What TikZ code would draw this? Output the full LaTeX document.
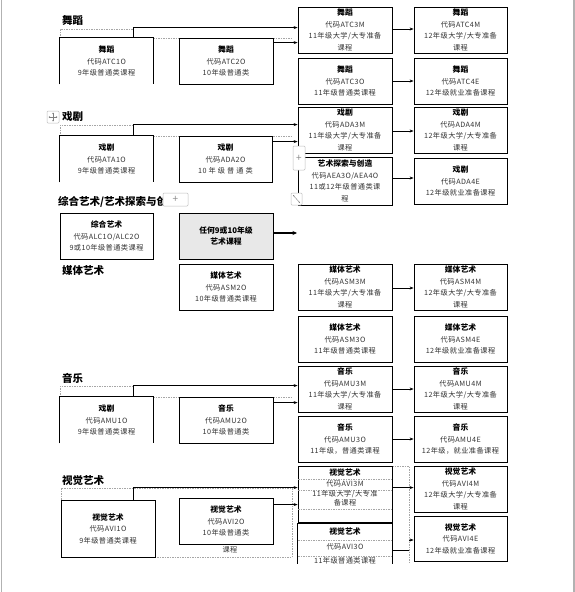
\documentclass[tikz,border=0pt]{standalone}
\usepackage{fontspec}
\setmainfont{Noto Sans CJK SC}
\newfontfamily\spacedfont[LetterSpace=6]{Noto Sans CJK SC}
\usetikzlibrary{arrows.meta}
\tikzset{
  box/.style={draw=black, line width=0.8pt, inner sep=0pt, align=center, font=\spacedfont\fontsize{7.2}{11.5}\selectfont, text=black!80},
  openbox/.style={box, draw=none},
  graybox/.style={box, fill=black!9},
  grid/.style={draw=black!35, dash pattern=on 1.5pt off 1pt, line width=0.5pt},
  arr/.style={draw=black, line width=0.7pt, -{Stealth[length=4pt,width=3pt]}},
  thickarr/.style={draw=black, line width=1.6pt, -{Stealth[length=4.5pt,width=4pt]}},
  heading/.style={anchor=west, inner sep=0pt, font=\fontsize{10.5}{12}\selectfont\bfseries},
  plain/.style={inner sep=0pt, font=\spacedfont\fontsize{7.2}{11.5}\selectfont, text=black!80},
  ui/.style={draw=black!25, rounded corners=1pt, line width=0.5pt, fill=white},
  sideline/.style={draw=black!30, line width=1.5pt},
}
\newcommand\boxat[7][box]{\node[#1, minimum width={(#5-#3)*1pt}, minimum height={(#6-#4)*1pt}] (#2) at ({(#3+#5)/2},{(#4+#6)/2}) {#7};}
\newcommand\boxtitle[1]{{\normalfont\fontsize{7.8}{11.5}\selectfont\bfseries\color{black}#1}}
\newcommand\opensides[1]{\draw[line width=0.8pt] (#1.south west) -- (#1.north west) -- (#1.north east) -- (#1.south east);}
\begin{document}
\begin{tikzpicture}[x=1pt,y=-1pt]
\useasboundingbox (0,0) rectangle (575,592);
\fill[white] (0,0) rectangle (575,592);
\draw[sideline] (1.5,0) -- (1.5,592);
\draw[sideline] (574,0) -- (574,592);
\begin{scope}
\clip (0,0) rectangle (575,563);
% ---------------- Dance
\node[heading] (hdance) at (62,20) {舞蹈};
\draw[grid] (60,38) -- (60,29) -- (133,29);
\draw[grid] (153,38) -- (292,38);
\boxat[openbox]{atc1o}{60}{38}{153}{84}{\boxtitle{舞蹈}\\代码ATC1O\\9年级普通类课程}
\opensides{atc1o}
\boxat{atc2o}{179}{38}{273}{84}{\boxtitle{舞蹈}\\代码ATC2O\\10年级普通类}
\boxat{atc3m}{298}{7}{392}{53}{\boxtitle{舞蹈}\\代码ATC3M\\11年级大学/大专准备\\课程}
\boxat{atc4m}{414}{7}{507}{53}{\boxtitle{舞蹈}\\代码ATC4M\\12年级大学/大专准备\\课程}
\boxat{atc3o}{298}{58}{392}{104}{\boxtitle{舞蹈}\\代码ATC3O\\11年级普通类课程}
\boxat{atc4e}{414}{58}{507}{104}{\boxtitle{舞蹈}\\代码ATC4E\\12年级就业准备课程}
\draw[arr] ([xshift=26.5pt]atc1o.north) |- ([yshift=-21pt]atc3m.north west);
\draw[arr] ([yshift=-5pt]atc2o.north east) -- ([yshift=-5pt]atc2o.north east -| atc3m.west);
\draw[arr] ([yshift=1pt]atc3m.east) -- ([yshift=1pt]atc3m.east -| atc4m.west);
\draw[arr] (atc3o.east) -- (atc4e.west);
% ---------------- Drama
\node[heading] (hdrama) at (62,117) {戏剧};
\draw[grid] (60,136) -- (60,125) -- (133,125);
\draw[grid] (153,136) -- (292,136);
\boxat[openbox]{ata1o}{60}{136}{153}{182}{\boxtitle{戏剧}\\代码ATA1O\\9年级普通类课程}
\opensides{ata1o}
\boxat{ada2o}{179}{136}{272}{182}{\boxtitle{戏剧}\\代码ADA2O\\10 年 级 普 通 类}
\boxat{ada3m}{298}{107}{392}{153}{\boxtitle{戏剧}\\代码ADA3M\\11年级大学/大专准备\\课程}
\boxat{ada4m}{414}{107}{507}{153}{\boxtitle{戏剧}\\代码ADA4M\\12年级大学/大专准备\\课程}
\boxat{aea3o}{298}{157}{392}{205}{\boxtitle{艺术探索与创造}\\代码AEA3O/AEA4O\\11或12年级普通类课\\程}
\boxat{ada4e}{414}{158}{507}{204}{\boxtitle{戏剧}\\代码ADA4E\\12年级就业准备课程}
\draw[arr] ([xshift=26.5pt]ata1o.north) |- ([yshift=-18pt]ada3m.north west);
\draw[arr] ([yshift=-6pt]ada2o.north east) -- ([yshift=-6pt]ada2o.north east -| ada3m.west);
\draw[arr] ([yshift=-1pt]ada3m.east) -- ([yshift=-1pt]ada3m.east -| ada4m.west);
\draw[arr] ([yshift=3pt]aea3o.east) -- ([yshift=3pt]aea3o.east -| ada4e.west);
% ---------------- Integrated arts
\node[heading] (hinteg) at (58,202) {综合艺术/艺术探索与创};
\boxat{alc1o}{60}{213}{153}{259}{\boxtitle{综合艺术}\\代码ALC1O/ALC2O\\9或10年级普通类课程}
\boxat[graybox]{anyart}{179}{213}{273}{259}{\boxtitle{任何9或10年级}\\\boxtitle{艺术课程}}
\coordinate (anyend) at (297,233);
\draw[thickarr] (anyart.east |- anyend) -- (anyend);
% ---------------- Media arts
\node[heading] (hmedia) at (62,271) {媒体艺术};
\boxat{asm2o}{179}{264}{273}{310}{\boxtitle{媒体艺术}\\代码ASM2O\\10年级普通类课程}
\boxat{asm3m}{298}{264}{392}{310}{\boxtitle{媒体艺术}\\代码ASM3M\\11年级大学/大专准备\\课程}
\boxat{asm4m}{414}{264}{507}{310}{\boxtitle{媒体艺术}\\代码ASM4M\\12年级大学/大专准备\\课程}
\boxat{asm3o}{298}{316}{392}{362}{\boxtitle{媒体艺术}\\代码ASM3O\\11年级普通类课程}
\boxat{asm4e}{414}{316}{507}{362}{\boxtitle{媒体艺术}\\代码ASM4E\\12年级就业准备课程}
\draw[arr] ([yshift=-1pt]asm3m.east) -- ([yshift=-1pt]asm3m.east -| asm4m.west);
% ---------------- Music
\node[heading] (hmusic) at (62,378) {音乐};
\draw[grid] (60,397) -- (60,386) -- (133,386);
\draw[grid] (153,397) -- (292,397);
\boxat[openbox]{amu1o}{60}{397}{153}{443}{\boxtitle{戏剧}\\代码AMU1O\\9年级普通类课程}
\opensides{amu1o}
\boxat{amu2o}{179}{397}{273}{443}{\boxtitle{音乐}\\代码AMU2O\\10年级普通类}
\boxat{amu3m}{298}{366}{392}{412}{\boxtitle{音乐}\\代码AMU3M\\11年级大学/大专准备\\课程}
\boxat{amu4m}{414}{366}{507}{412}{\boxtitle{音乐}\\代码AMU4M\\12年级大学/大专准备\\课程}
\boxat{amu3o}{298}{416}{392}{462}{\boxtitle{音乐}\\代码AMU3O\\11年级，普通类课程}
\boxat{amu4e}{414}{416}{507}{462}{\boxtitle{音乐}\\代码AMU4E\\12年级，就业准备课程}
\draw[arr] ([xshift=26.5pt]amu1o.north) |- ([yshift=-20pt]amu3m.north west);
\draw[arr] ([yshift=-6pt]amu2o.north east) -- ([yshift=-6pt]amu2o.north east -| amu3m.west);
\draw[arr] (amu3m.east) -- (amu4m.west);
\draw[arr] (amu3o.east) -- (amu4e.west);
% ---------------- Visual arts
\node[heading] (hvisual) at (62,481) {视觉艺术};
\draw[grid] (61,488) rectangle (292,557);
\boxat{avi1o}{61}{500}{155}{557}{\boxtitle{视觉艺术}\\代码AVI1O\\9年级普通类课程}
\boxat{avi2o}{179}{498}{273}{544}{\boxtitle{视觉艺术}\\代码AVI2O\\10年级普通类}
\node[plain] (avi2otail) at (230,550) {课程};
\draw[grid] (392,466) -- (409,466) -- (409,563);
\boxat{avi3m}{298}{466}{392}{522}{}
\draw[grid] (298,479) -- (392,479);
\draw[grid] (298,490) -- (392,490);
\draw[grid] (298,509) -- (392,509);
\node[plain] (avi3ma) at (345,472.5) {\boxtitle{视觉艺术}};
\node[plain] (avi3mb) at (345,484) {代码AVI3M};
\node[plain] (avi3mc) at (345,494.5) {11年级大学/大专准};
\node[plain] (avi3md) at (345,502.5) {备课程};
\boxat[openbox]{avi3o}{298}{523.5}{392}{570}{}
\opensides{avi3o}
\draw[grid] (298,540) -- (392,540);
\draw[grid] (298,556) -- (392,556);
\node[plain] (avi3oa) at (345,532) {\boxtitle{视觉艺术}};
\node[plain] (avi3ob) at (345,547) {代码AVI3O};
\node[plain] (avi3oc) at (345,561) {11年级普通类课程};
\boxat{avi4m}{414}{466}{507}{512}{\boxtitle{视觉艺术}\\代码AVI4M\\12年级大学/大专准备\\课程}
\boxat{avi4e}{414}{516}{507}{561}{\boxtitle{视觉艺术}\\代码AVI4E\\12年级就业准备课程}
\draw[arr] ([xshift=-22pt]avi1o.north east) |- ([yshift=-22pt]avi3m.north west);
\draw[arr] ([yshift=-7pt]avi2o.north east) -- ([yshift=-7pt]avi2o.north east -| avi3m.west);
\draw[arr] ([yshift=-22pt]avi3m.north east) -- ([yshift=-22pt]avi3m.north east -| avi4m.west);
\coordinate (avi3oturn) at (409,550);
\coordinate (avi4ein) at (409,540);
\draw[line width=0.7pt] (avi3o.east |- avi3oturn) -- (avi3oturn);
\draw[arr] (avi4ein) -- (avi4ein -| avi4e.west);
% ---------------- Word interface marks
\draw[ui] (47,111) rectangle (59,123);
\draw[black!50, line width=0.5pt, {Stealth[length=1.6pt,width=1.6pt]}-{Stealth[length=1.6pt,width=1.6pt]}] (48.5,117) -- (57.5,117);
\draw[black!50, line width=0.5pt, {Stealth[length=1.6pt,width=1.6pt]}-{Stealth[length=1.6pt,width=1.6pt]}] (53,112.5) -- (53,121.5);
\draw[ui] (163,193) rectangle (188,206);
\node[inner sep=0pt, text=black!45, font=\fontsize{10}{10}\selectfont] (plusa) at (175.5,199.5) {+};
\draw[ui] (293,146) rectangle (305,170);
\node[inner sep=0pt, text=black!45, font=\fontsize{10}{10}\selectfont] (plusb) at (299,158) {+};
\draw[ui] (291,193) rectangle (302,205);
\draw[black!50, line width=0.4pt, {Stealth[length=1.5pt,width=1.5pt]}-{Stealth[length=1.5pt,width=1.5pt]}] (293,195) -- (300,203);
\end{scope}
\end{tikzpicture}
\end{document}
